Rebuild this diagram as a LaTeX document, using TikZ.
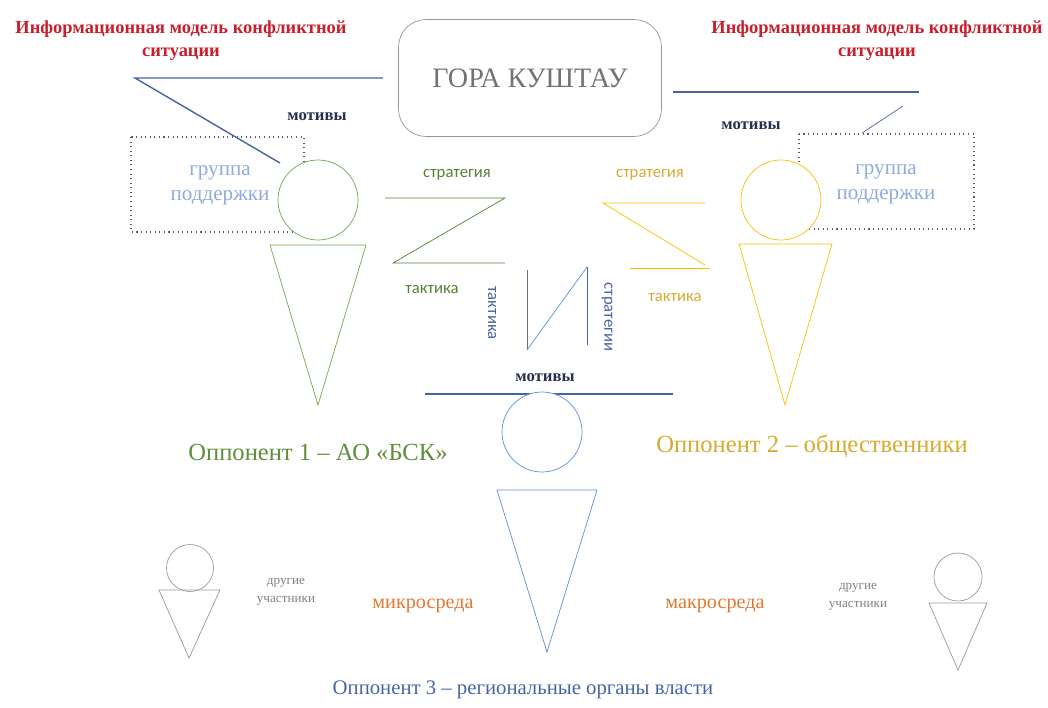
\documentclass[tikz,border=0pt]{standalone}
\usepackage{fontspec}
\setmainfont{Liberation Serif}
\newfontfamily\calib{Carlito}
\definecolor{titred}{RGB}{200,30,45}
\definecolor{navy}{RGB}{38,48,78}
\definecolor{lineblue}{RGB}{70,100,165}
\definecolor{figblue}{RGB}{91,145,210}
\definecolor{figgreen}{RGB}{112,168,70}
\definecolor{zgreen}{RGB}{84,130,53}
\definecolor{figgold}{RGB}{250,192,0}
\definecolor{txtgold}{RGB}{215,170,45}
\definecolor{grpblue}{RGB}{143,170,220}
\definecolor{envorange}{RGB}{225,120,50}
\definecolor{boxgray}{RGB}{150,150,150}
\begin{document}
\begin{tikzpicture}[x=0.02cm,y=-0.02cm,
    title/.style={text=titred,font=\fontsize{10.5}{13}\selectfont\bfseries,align=center},
    motiv/.style={text=navy,font=\fontsize{9.5}{11}\selectfont\bfseries},
    smalltxt/.style={font=\calib\fontsize{9.5}{11}\selectfont},
    opp/.style={font=\fontsize{14}{16}\selectfont},
    grp/.style={text=grpblue,font=\fontsize{12}{14}\selectfont,align=center},
    other/.style={text=gray,font=\fontsize{7.5}{10}\selectfont,align=center},
    env/.style={text=envorange,font=\fontsize{11.5}{13}\selectfont}]
  \useasboundingbox (0,0) rectangle (1048,707);
  % заголовки
  \node[title] (tl) at (181,41) {Информационная модель конфликтной\\ситуации};
  \node[title] (tr) at (877,41) {Информационная модель конфликтной\\ситуации};
  \node[draw=boxgray,rounded corners=0.55cm,minimum width=5.26cm,minimum height=2.34cm,
    text=gray!110,font=\fontsize{16}{18}\selectfont] (gora) at (530,78) {ГОРА КУШТАУ};
  % мотивы
  \draw[lineblue,thick] (383,78) -- (135,78) -- (280,163);
  \draw[lineblue,thick] (673,92) -- (919,92);
  \draw[lineblue] (903,106) -- (862,133);
  \node[motiv] (m1) at (317,117) {мотивы};
  \node[motiv] (m2) at (751,126) {мотивы};
  \node[motiv] (m3) at (545,378) {мотивы};
  \draw[lineblue,thick] (425,394) -- (673,394);
  % группы поддержки
  \draw[navy!80,dotted,semithick] (131,137) rectangle (304,232);
  \draw[navy!80,dotted,semithick] (799,134) rectangle (974,229);
  \node[grp] (g1) at (220,185) {группа\\поддержки};
  \node[grp] (g2) at (886,184) {группа\\поддержки};
  % оппонент 1
  \draw[figgreen,fill=white] (318,200) circle[radius=0.8cm];
  \draw[figgreen] (270,245) -- (366,245) -- (318,405) -- cycle;
  \draw[zgreen] (385,198) -- (505,198) -- (393,263) -- (505,263);
  \node[smalltxt,text=zgreen] (s1) at (457,175) {стратегия};
  \node[smalltxt,text=zgreen] (t1) at (432,289) {тактика};
  \node[opp,text=figgreen!85!black] (o1) at (318,452) {Оппонент 1 -- АО «БСК»};
  % оппонент 2
  \draw[figgold,fill=white] (781,200) circle[radius=0.8cm];
  \draw[figgold] (739,244) -- (832,244) -- (785,405) -- cycle;
  \draw[figgold] (705,203) -- (603,203) -- (705,265);
  \draw[figgold] (630,268) -- (710,268);
  \node[smalltxt,text=txtgold] (s2) at (650,175) {стратегия};
  \node[smalltxt,text=txtgold] (t2) at (675,297) {тактика};
  \node[opp,text=txtgold] (o2) at (812,446) {Оппонент 2 -- общественники};
  % оппонент 3
  \draw[navy!70] (527,270) -- (527,350);
  \draw[figblue] (527,350) -- (587,267);
  \draw[lineblue] (587,267) -- (587,345);
  \node[smalltxt,text=lineblue,rotate=-90] (t3) at (492,313) {тактика};
  \node[smalltxt,text=lineblue,rotate=-90] (s3) at (607,317) {стратегии};
  \draw[figblue,fill=white] (542,432) circle[radius=0.8cm];
  \draw[figblue] (497,490) -- (597,490) -- (547,652) -- cycle;
  \node[opp,text=lineblue,font=\fontsize{11.8}{14}\selectfont] (o3) at (523,690) {Оппонент 3 -- региональные органы власти};
  % другие участники
  \draw[gray!80] (190,568) circle[radius=0.47cm];
  \draw[gray!80] (159,590) -- (220,590) -- (189,658) -- cycle;
  \draw[gray!80] (958,577) circle[radius=0.48cm];
  \draw[gray!80] (929,603) -- (987,603) -- (958,670) -- cycle;
  \node[other] (d1) at (286,592) {другие\\участники};
  \node[other] (d2) at (858,597) {другие\\участники};
  \node[env] (mi) at (423,606) {микросреда};
  \node[env] (ma) at (715,606) {макросреда};
\end{tikzpicture}
\end{document}
